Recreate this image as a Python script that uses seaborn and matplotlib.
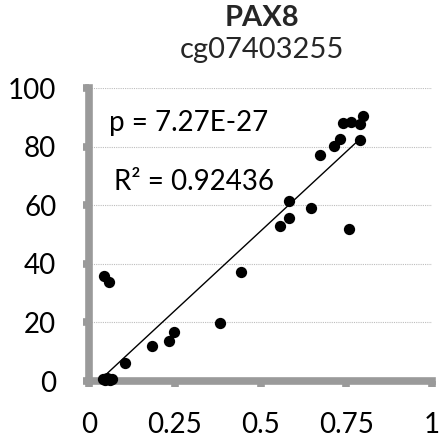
import matplotlib
matplotlib.use("Agg")
import matplotlib.pyplot as plt
import seaborn as sns
import pandas as pd

# data
x_vals = [0.800, 0.791, 0.764, 0.740, 0.791, 0.733, 0.713, 0.674, 0.582, 0.582,
          0.556, 0.647, 0.759, 0.045, 0.057, 0.444, 0.382, 0.248, 0.232, 0.185,
          0.104, 0.040, 0.047, 0.053, 0.060, 0.066]
y_vals = [90.4, 87.7, 88.5, 87.9, 82.3, 82.6, 80.2, 77.1, 61.5, 55.7,
          52.9, 59.2, 51.8, 35.8, 33.7, 37.1, 19.8, 16.8, 13.8, 11.9,
          6.2, 0.8, 0.5, 1.0, 0.4, 0.8]
trend_x = [0.054, 0.789]
trend_y = [2.7, 82.5]
x_ticks = [0, 0.25, 0.5, 0.75, 1]
x_tick_labels = ["0", "0.25", "0.5", "0.75", "1"]
y_ticks = [0, 20, 40, 60, 80, 100]
title_line1 = "PAX8"
title_line2 = "cg07403255"
p_text = "p = 7.27E-27"
r2_text = "R² = 0.92436"

gray = "#9a9a9a"
sns.set_theme(style="white")
plt.rcParams['font.family'] = ['Lato', 'DejaVu Sans']
plt.rcParams.update({
    "xtick.bottom": True, "ytick.left": True,
    "xtick.major.size": 4.5, "ytick.major.size": 4.5,
    "xtick.major.width": 5.5, "ytick.major.width": 5.5,
    "xtick.major.pad": 18, "ytick.major.pad": 19,
    "xtick.color": gray, "ytick.color": gray,
    "xtick.labelcolor": "black", "ytick.labelcolor": "black",
    "xtick.labelsize": 20, "ytick.labelsize": 20,
    "xtick.direction": "out", "ytick.direction": "out",
})

W, H = 440, 442
fig = plt.figure(figsize=(W / 100, H / 100), dpi=100)
ax = fig.add_axes([89 / W, 1 - 381 / H, (432 - 89) / W, (381 - 88) / H])

df = pd.DataFrame({"x": x_vals, "y": y_vals})
tdf = pd.DataFrame({"x": trend_x, "y": trend_y})

for yv in y_ticks[1:]:
    ax.axhline(yv, color="#bdbdbd", lw=0.8, ls=(0, (1, 1)), zorder=0)

sns.lineplot(data=tdf, x="x", y="y", color="black", lw=1.0, ax=ax, zorder=2)
sns.scatterplot(data=df, x="x", y="y", color="black", s=66, edgecolor="black",
                linewidth=0, ax=ax, zorder=3, clip_on=False)

ax.set_xlim(0, 1)
ax.set_ylim(0, 100)
ax.set_xticks(x_ticks)
ax.set_xticklabels(x_tick_labels)
ax.set_yticks(y_ticks)
ax.set_xlabel("")
ax.set_ylabel("")

for s in ["top", "right"]:
    ax.spines[s].set_visible(False)
for s in ["left", "bottom"]:
    ax.spines[s].set_color(gray)
    ax.spines[s].set_linewidth(5.5)
    ax.spines[s].set_capstyle("projecting")

ax.text(0.058, 88, p_text, fontsize=20, va="center", ha="left", color="black")
ax.text(0.073, 67.9, r2_text, fontsize=20, va="center", ha="left", color="black")

fig.text(262 / W, 1 - 18 / H, title_line1, fontsize=21, fontweight="bold",
         ha="center", va="center")
fig.text(262 / W, 1 - 50 / H, title_line2, fontsize=21, ha="center", va="center")

fig.savefig("out.png", dpi=100)
